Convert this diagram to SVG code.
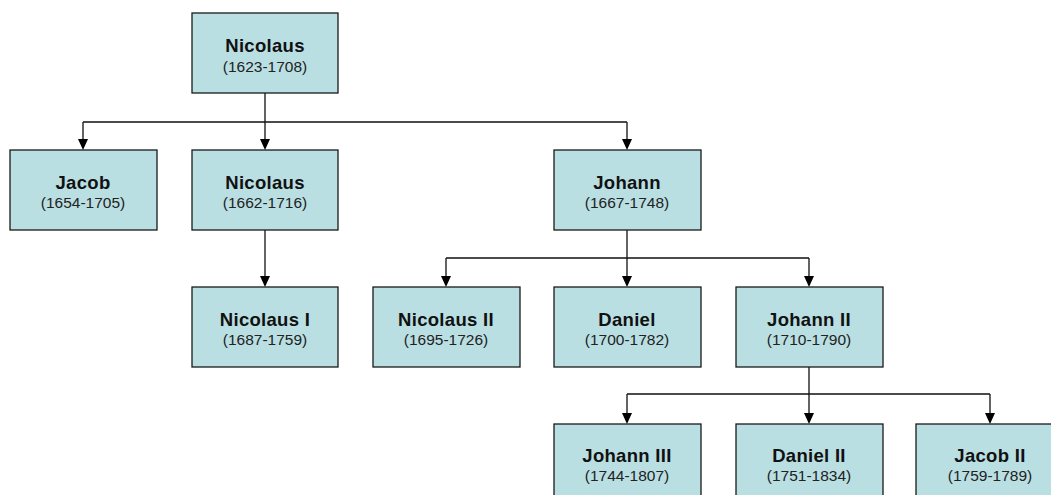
<svg xmlns="http://www.w3.org/2000/svg" width="1051" height="495" viewBox="0 0 1051 495">
<style>
.box{fill:#b9dfe3;stroke:#1a1a1a;stroke-width:1.3}
.nm{font-family:"Liberation Sans",Arial,sans-serif;font-weight:bold;font-size:18.5px;fill:#111;text-anchor:middle;letter-spacing:0.3px}
.dt{font-family:"Liberation Sans",Arial,sans-serif;font-size:15.5px;fill:#222;text-anchor:middle}
.ln{fill:none;stroke:#111;stroke-width:1.3}
.ah{fill:#000}
</style>
<rect width="1051" height="495" fill="#fff"/>
<g id="connectors">
<path class="ln" d="M265,93 V122 M83,122 H627 M83,122 V139 M265,122 V139 M627,122 V139"/>
<path class="ln" d="M627,230 V258 M446,258 H809 M446,258 V276 M627,258 V276 M809,258 V276"/>
<path class="ln" d="M265,230 V276"/>
<path class="ln" d="M809,367 V394 M627,394 H990 M627,394 V413 M809,394 V413 M990,394 V413"/>
<path class="ah" d="M78,139 H88 L83,150 Z"/>
<path class="ah" d="M260,139 H270 L265,150 Z"/>
<path class="ah" d="M622,139 H632 L627,150 Z"/>
<path class="ah" d="M260,276 H270 L265,287 Z"/>
<path class="ah" d="M441,276 H451 L446,287 Z"/>
<path class="ah" d="M622,276 H632 L627,287 Z"/>
<path class="ah" d="M804,276 H814 L809,287 Z"/>
<path class="ah" d="M622,413 H632 L627,424 Z"/>
<path class="ah" d="M804,413 H814 L809,424 Z"/>
<path class="ah" d="M985,413 H995 L990,424 Z"/>
</g>
<g id="n1"><rect class="box" x="192" y="13" width="146" height="80"/><text class="nm" x="265" y="52">Nicolaus</text><text class="dt" x="265" y="72">(1623-1708)</text></g>
<g id="n2"><rect class="box" x="10" y="150" width="147" height="80"/><text class="nm" x="83" y="189">Jacob</text><text class="dt" x="83" y="208">(1654-1705)</text></g>
<g id="n3"><rect class="box" x="192" y="150" width="146" height="80"/><text class="nm" x="265" y="189">Nicolaus</text><text class="dt" x="265" y="208">(1662-1716)</text></g>
<g id="n4"><rect class="box" x="554" y="150" width="147" height="80"/><text class="nm" x="627" y="189">Johann</text><text class="dt" x="627" y="208">(1667-1748)</text></g>
<g id="n5"><rect class="box" x="192" y="287" width="146" height="80"/><text class="nm" x="265" y="326">Nicolaus I</text><text class="dt" x="265" y="345">(1687-1759)</text></g>
<g id="n6"><rect class="box" x="373" y="287" width="147" height="80"/><text class="nm" x="446" y="326">Nicolaus II</text><text class="dt" x="446" y="345">(1695-1726)</text></g>
<g id="n7"><rect class="box" x="554" y="287" width="147" height="80"/><text class="nm" x="627" y="326">Daniel</text><text class="dt" x="627" y="345">(1700-1782)</text></g>
<g id="n8"><rect class="box" x="736" y="287" width="147" height="80"/><text class="nm" x="809" y="326">Johann II</text><text class="dt" x="809" y="345">(1710-1790)</text></g>
<g id="n9"><rect class="box" x="554" y="424" width="147" height="80"/><text class="nm" x="627" y="462">Johann III</text><text class="dt" x="627" y="481">(1744-1807)</text></g>
<g id="n10"><rect class="box" x="736" y="424" width="147" height="80"/><text class="nm" x="809" y="462">Daniel II</text><text class="dt" x="809" y="481">(1751-1834)</text></g>
<g id="n11"><rect class="box" x="916" y="424" width="147" height="80"/><text class="nm" x="990" y="462">Jacob II</text><text class="dt" x="990" y="481">(1759-1789)</text></g>
</svg>
